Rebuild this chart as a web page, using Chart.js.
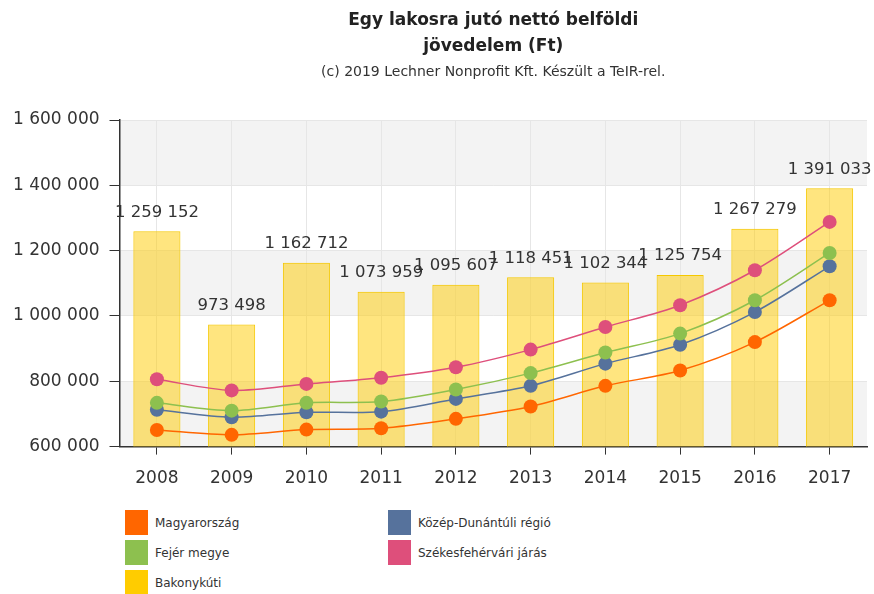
<!DOCTYPE html>
<html>
<head>
<meta charset="utf-8">
<script src="https://cdn.jsdelivr.net/npm/chart.js@4/dist/chart.umd.min.js"></script>
<style>
	body { margin: 0; background: #fff; font-family: "DejaVu Sans", sans-serif; }
	#wrap { position: relative; width: 874px; height: 503px; }
	#legend { position: absolute; left: 125px; top: 510px; display: grid; grid-template-columns: 263px auto; row-gap: 5px; }
	.lg-item { display: flex; align-items: center; height: 25px; font-size: 12px; color: #333; }
	.lg-box { width: 23px; height: 25px; margin-right: 7px; }
</style>
</head>
<body>
<div id="wrap"><canvas id="chart" width="874" height="503"></canvas></div>
<div id="legend"></div>
<script>
const years = ['2008', '2009', '2010', '2011', '2012', '2013', '2014', '2015', '2016', '2017'];
const bakonykuti = [1259152, 973498, 1162712, 1073959, 1095607, 1118451, 1102344, 1125754, 1267279, 1391033];
const magyarorszag = [651000, 636000, 652000, 656000, 685000, 723000, 786000, 833000, 920000, 1048000];
const kozepDunantul = [713000, 690000, 705000, 707000, 746000, 786000, 854000, 912000, 1012000, 1152000];
const fejerMegye = [734000, 710000, 734000, 738000, 775000, 825000, 888000, 946000, 1048000, 1193000];
const szekesfehervar = [806000, 772000, 792000, 811000, 843000, 897000, 966000, 1033000, 1140000, 1288000];
const yTicks = [600000, 800000, 1000000, 1200000, 1400000, 1600000];

const FONT = '"DejaVu Sans", sans-serif';

function fmt(v) {
	return String(v).replace(/\B(?=(\d{3})+(?!\d))/g, ' ');
}

// alternating grey bands behind the plot
const bands = {
	id: 'bands',
	beforeDraw(chart) {
		const y = chart.scales.y;
		const area = chart.chartArea;
		const ctx = chart.ctx;
		ctx.save();
		ctx.fillStyle = '#f3f3f3';
		for (let i = 0; i < yTicks.length - 1; i += 2) {
			const top = y.getPixelForValue(yTicks[i + 1]);
			const bottom = y.getPixelForValue(yTicks[i]);
			ctx.fillRect(area.left, top, area.right - area.left, bottom - top);
		}
		ctx.restore();
	}
};

// value labels on top of the bars
const barLabels = {
	id: 'barLabels',
	afterDatasetsDraw(chart) {
		const meta = chart.getDatasetMeta(0);
		const ctx = chart.ctx;
		ctx.save();
		ctx.font = '16.5px ' + FONT;
		ctx.fillStyle = '#333';
		ctx.textAlign = 'center';
		ctx.textBaseline = 'middle';
		meta.data.forEach(function(bar, i) {
			ctx.fillText(fmt(bakonykuti[i]), bar.x, bar.y - 19);
		});
		ctx.restore();
	}
};

function lineSet(label, data, color, order) {
	return {
		type: 'line',
		label: label,
		data: data,
		borderColor: color,
		backgroundColor: color,
		borderWidth: 1.5,
		pointRadius: 7,
		pointBorderWidth: 0,
		pointBackgroundColor: color,
		tension: 0.3,
		order: order
	};
}

const ctx = document.getElementById('chart').getContext('2d');
const chart = new Chart(ctx, {
	type: 'bar',
	data: {
		labels: years,
		datasets: [
			{
				label: 'Bakonykúti',
				data: bakonykuti,
				backgroundColor: 'rgba(255, 204, 0, 0.5)',
				borderColor: '#f5c800',
				borderWidth: 1,
				barPercentage: 0.7,
				categoryPercentage: 0.9,
				order: 10,
				legendColor: '#ffcc00'
			},
			lineSet('Magyarország', magyarorszag, '#ff6600', 4),
			lineSet('Közép-Dunántúli régió', kozepDunantul, '#56729c', 3),
			lineSet('Fejér megye', fejerMegye, '#8dc04f', 2),
			lineSet('Székesfehérvári járás', szekesfehervar, '#de4f7b', 1)
		]
	},
	options: {
		responsive: false,
		animation: false,
		layout: { padding: { left: 3, right: 7, bottom: 0, top: 0 } },
		plugins: {
			legend: { display: false },
			tooltip: { enabled: false },
			title: {
				display: true,
				fullSize: false,
				text: ['Egy lakosra jutó nettó belföldi', 'jövedelem (Ft)'],
				color: '#222',
				font: { family: FONT, size: 17, weight: 'bold', lineHeight: 1.55 },
				padding: { top: 7, bottom: 4 }
			},
			subtitle: {
				display: true,
				fullSize: false,
				text: '(c) 2019 Lechner Nonprofit Kft. Készült a TeIR-rel.',
				color: '#333',
				font: { family: FONT, size: 14, lineHeight: 1.2 },
				padding: { top: 0, bottom: 39.5 }
			}
		},
		scales: {
			x: {
				grid: { offset: false, color: '#e6e6e6', tickColor: '#333', tickLength: 8 },
				border: { color: '#333', width: 1.5 },
				ticks: { color: '#333', font: { family: FONT, size: 17 }, padding: 14 }
			},
			y: {
				min: 600000,
				max: 1600000,
				grid: { color: '#e6e6e6', tickColor: '#333', tickLength: 10 },
				border: { color: '#333', width: 1.5 },
				ticks: {
					stepSize: 200000,
					color: '#333',
					font: { family: FONT, size: 17 },
					padding: 10,
					callback: function(v) { return fmt(v); }
				}
			}
		}
	},
	plugins: [bands, barLabels]
});

// two-column legend built from the datasets
const legendOrder = [1, 2, 3, 4, 0];
const legend = document.getElementById('legend');
legendOrder.forEach(function(idx) {
	const ds = chart.data.datasets[idx];
	const item = document.createElement('div');
	item.className = 'lg-item';
	const box = document.createElement('span');
	box.className = 'lg-box';
	box.style.background = ds.legendColor || ds.borderColor;
	item.appendChild(box);
	item.appendChild(document.createTextNode(ds.label));
	legend.appendChild(item);
});
</script>
</body>
</html>
